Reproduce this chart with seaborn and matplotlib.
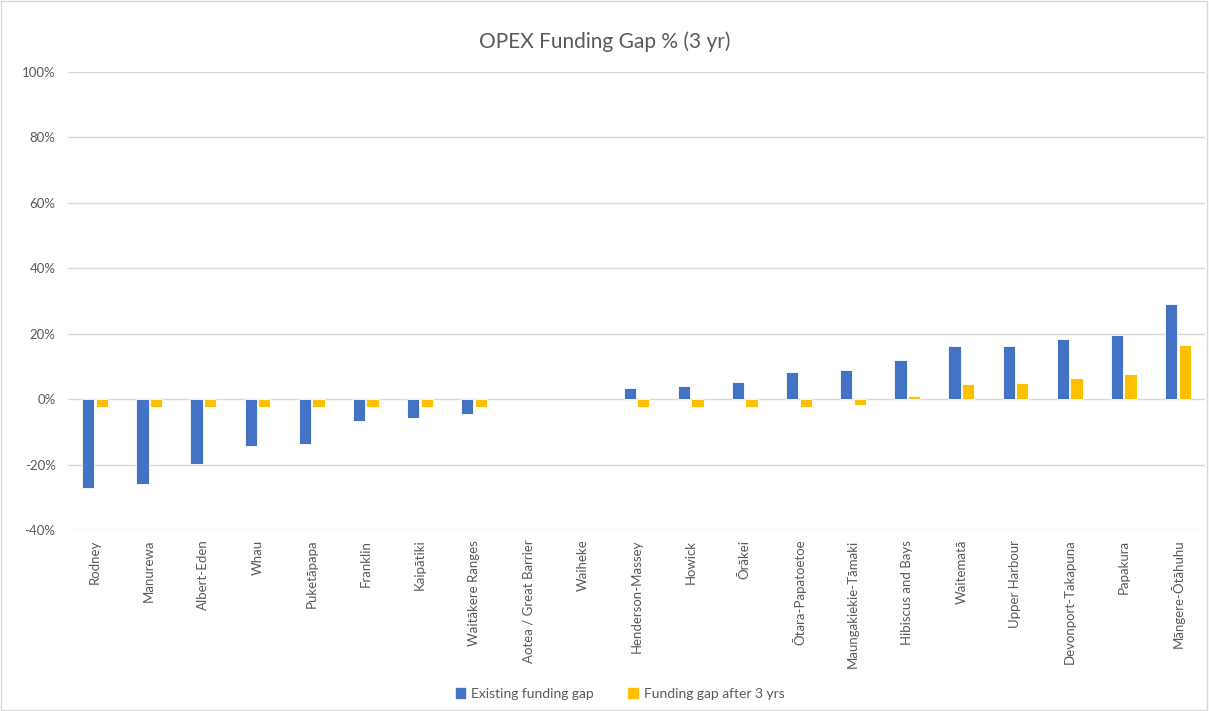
import matplotlib
matplotlib.use("Agg")
import matplotlib.pyplot as plt
import matplotlib.patches as mpatches
import numpy as np
import pandas as pd
import seaborn as sns
from matplotlib.ticker import FuncFormatter

boards = ["Rodney", "Manurewa", "Albert-Eden", "Whau", "Puketāpapa", "Franklin",
          "Kaipātiki", "Waitākere Ranges", "Aotea / Great Barrier", "Waiheke",
          "Henderson-Massey", "Howick", "Ōrākei", "Ōtara-Papatoetoe",
          "Maungakiekie-Tāmaki", "Hibiscus and Bays", "Waitematā", "Upper Harbour",
          "Devonport-Takapuna", "Papakura", "Māngere-Ōtāhuhu"]

# % values, NaN = no bar shown
existing_gap = [-27.2, -26.0, -19.8, -14.3, -13.8, -6.6, -5.8, -4.5, np.nan, np.nan,
                3.3, 4.0, 5.3, 8.3, 8.8, 11.9, 16.2, 16.2, 18.4, 19.5, 29.1]
gap_after_3yrs = [-2.5, -2.5, -2.5, -2.5, -2.5, -2.5, -2.5, -2.5, np.nan, np.nan,
                  -2.5, -2.5, -2.5, -2.3, -1.9, 1.0, 4.5, 4.8, 6.5, 7.6, 16.4]
series_names = ["Existing funding gap", "Funding gap after 3 yrs"]
colors = ["#4472C4", "#FFC000"]

df = pd.DataFrame({
    "board": boards * 2,
    "series": [series_names[0]] * len(boards) + [series_names[1]] * len(boards),
    "value": existing_gap + gap_after_3yrs,
})

sns.set_style("white")
plt.rcParams["font.family"] = ["Lato", "DejaVu Sans"]

fig = plt.figure(figsize=(12.09, 7.11), dpi=100)
ax = fig.add_axes([68 / 1209, 1 - 530 / 711, (1205 - 68) / 1209, (530 - 72) / 711])

sns.barplot(data=df, x="board", y="value", hue="series", order=boards,
            hue_order=series_names, palette=colors, saturation=1, width=0.5, gap=0.1,
            edgecolor="white", linewidth=0.6, legend=False, ax=ax)

ax.set_ylim(-40, 100)
ax.set_xlim(-0.5, len(boards) - 0.5)
ax.set_yticks(range(-40, 101, 20))
ax.yaxis.set_major_formatter(FuncFormatter(lambda v, p: f"{v:.0f}%"))
ax.grid(axis="y", color="#d9d9d9", linewidth=1)
ax.set_axisbelow(True)
for s in ax.spines.values():
    s.set_visible(False)
ax.set_xlabel("")
ax.set_ylabel("")
ax.tick_params(axis="y", length=0, pad=9, labelsize=9.5, labelcolor="#595959")
ax.tick_params(axis="x", length=0, pad=7, labelsize=9.5, labelcolor="#595959")
plt.setp(ax.get_xticklabels(), rotation=90, va="top", ha="center")

fig.suptitle("OPEX Funding Gap % (3 yr)", y=1 - 42 / 711, va="center",
             fontsize=15, color="#595959")

handles = [mpatches.Patch(color=c, label=n) for c, n in zip(colors, series_names)]
fig.legend(handles=handles, loc="center", bbox_to_anchor=(620 / 1209, 1 - 694 / 711),
           ncol=2, frameon=False, fontsize=10, handlelength=0.7, handleheight=0.7,
           handletextpad=0.4, columnspacing=2.5, labelcolor="#595959")

fig.patches.append(mpatches.Rectangle((0.001, 0.001), 0.997, 0.997, transform=fig.transFigure,
                                      fill=False, edgecolor="#d9d9d9", linewidth=1))

fig.savefig("out.png", dpi=100)
